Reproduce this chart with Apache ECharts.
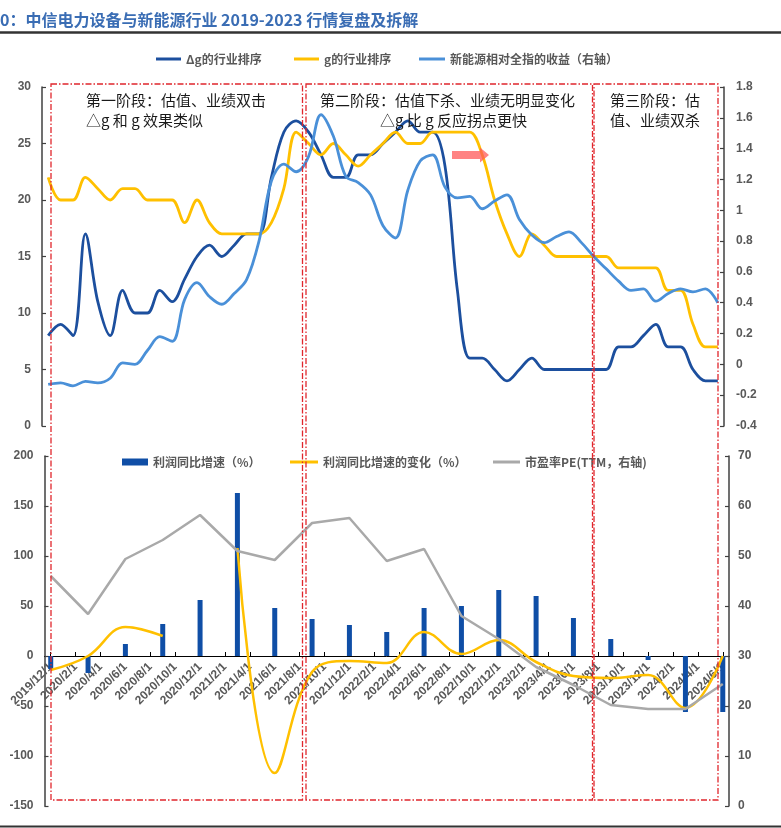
<!DOCTYPE html>
<html>
<head>
<meta charset="utf-8">
<script src="https://cdn.jsdelivr.net/npm/echarts@6/dist/echarts.min.js"></script>
<style>
html,body{margin:0;padding:0;background:#fff;}
#c{width:781px;height:828px;}
</style>
</head>
<body>
<div id="c"></div>
<script>
// ---------- data ----------
var months = [
 '2019/12/1',
 '2020/1/1','2020/2/1','2020/3/1','2020/4/1','2020/5/1','2020/6/1','2020/7/1','2020/8/1','2020/9/1','2020/10/1','2020/11/1','2020/12/1',
 '2021/1/1','2021/2/1','2021/3/1','2021/4/1','2021/5/1','2021/6/1','2021/7/1','2021/8/1','2021/9/1','2021/10/1','2021/11/1','2021/12/1',
 '2022/1/1','2022/2/1','2022/3/1','2022/4/1','2022/5/1','2022/6/1','2022/7/1','2022/8/1','2022/9/1','2022/10/1','2022/11/1','2022/12/1',
 '2023/1/1','2023/2/1','2023/3/1','2023/4/1','2023/5/1','2023/6/1','2023/7/1','2023/8/1','2023/9/1','2023/10/1','2023/11/1','2023/12/1',
 '2024/1/1','2024/2/1','2024/3/1','2024/4/1','2024/5/1','2024/6/1'
];
// Δg 的行业排序 (left axis)
var deltaGRank = [8,9,8,17,11,8,12,10,10,12,11,13,15,16,15,16,17,17,22,26,27,26,24,22,22,24,24,25,26,27,26,26,23,12,6,6,5,4,5,6,5,5,5,5,5,5,7,7,8,9,7,7,5,4,4];
// g 的行业排序 (left axis)
var gRank = [22,20,20,22,21,20,21,21,20,20,20,18,20,18,17,17,17,17,18,21,26,25,24,25,24,23,24,25,26,25,25,26,26,26,26,24,20,17,15,17,16,15,15,15,15,15,14,14,14,14,12,12,9,7,7];
// 新能源相对全指的收益 (right axis)
var relReturn = [-0.13,-0.12,-0.14,-0.11,-0.12,-0.09,0.01,0.00,0.09,0.18,0.15,0.42,0.53,0.44,0.39,0.46,0.55,0.80,1.19,1.30,1.25,1.35,1.62,1.48,1.22,1.18,1.10,0.90,0.82,1.13,1.32,1.36,1.15,1.08,1.09,1.01,1.06,1.10,0.94,0.84,0.79,0.83,0.86,0.79,0.70,0.62,0.54,0.48,0.49,0.41,0.46,0.49,0.47,0.49,0.40];

// quarterly data (bottom panel)
var quarters = ['2019/12/1','2020/3/1','2020/6/1','2020/9/1','2020/12/1','2021/3/1','2021/6/1','2021/9/1','2021/12/1','2022/3/1','2022/6/1','2022/9/1','2022/12/1','2023/3/1','2023/6/1','2023/9/1','2023/12/1','2024/3/1','2024/6/1'];
var profitYoY = [-13,-17,12,32,56,163,48,37,31,24,48,50,66,60,38,17,-4,-56,-56];
var profitYoYChange = [-14,0,29,20,null,108,-117,-16,-5,-7,24,2,16,-6,-20,-22,-19,-52,0];
var peTTM = [46,38.4,49.4,53.2,58.2,51,49.2,56.6,57.6,49,51.4,38,33.4,27.8,24.2,20.2,19.4,19.4,24.4];

var leftTopTicks = {min:0, max:30, interval:5};
var rightTopTicks = {min:-0.4, max:1.8, interval:0.2};
var leftBotTicks = {min:-150, max:200, interval:50};
var rightBotTicks = {min:0, max:70, interval:10};

// ---------- build ----------
function pairs(xs, ys){ return xs.map(function(x,i){ return [x, ys[i]==null ? '-' : ys[i]]; }); }

var C_DG = '#1c4f9e', C_G = '#ffc000', C_REL = '#4a90d8', C_BAR = '#0f4ea6', C_PE = '#a9a9a9';
var axisLabelStyle = {color:'#595959', fontSize:12, fontWeight:'bold', fontFamily:'"Liberation Sans", Arial, sans-serif'};
var axisLineStyle = {show:true, lineStyle:{color:'#404040', width:1.5}};
var legendText = {color:'#595959', fontSize:12, fontWeight:'bold', fontFamily:'"Noto Sans CJK SC", sans-serif'};

var BOT_H = 350;
// put the category axis on the value-axis zero line of the bottom panel
var botZeroOffset = -(0 - leftBotTicks.min) / (leftBotTicks.max - leftBotTicks.min) * BOT_H;

function yAx(grid, ticks, pos, margin, fmt){
  var a = {type:'value', gridIndex:grid, position:pos, min:ticks.min, max:ticks.max, interval:ticks.interval,
    axisLine:axisLineStyle, axisTick:{show:true, inside:true, length:4, lineStyle:{color:'#404040', width:1.2}},
    axisLabel:Object.assign({margin:margin}, axisLabelStyle), splitLine:{show:false}};
  if (fmt) a.axisLabel.formatter = fmt;
  return a;
}
function oneLegend(name, left, top, w, h){
  return {data:[name], left:left, top:top, itemWidth:w, itemHeight:h, icon:'rect', itemGap:0,
    textStyle:legendText, padding:0, selectedMode:false};
}
var annoFont = '"Noto Sans CJK SC", sans-serif';
function anno(text, x, y){
  return {type:'text', x:x, y:y, z:100, style:{text:text, fill:'#1a1a1a', fontSize:15, fontFamily:annoFont, verticalAlign:'middle'}};
}
var dashStyle = {fill:'none', stroke:'#e0262c', lineWidth:1.3, lineDash:[6,2,1.5,2]};

var chart = echarts.init(document.getElementById('c'), null, {renderer:'canvas'});
chart.setOption({
  animation:false,
  backgroundColor:'#fff',
  grid:[
    {left:42, right:57, top:87, height:339, containLabel:false, outerBoundsMode:'none'},
    {left:44.5, right:52, top:456, height:BOT_H, containLabel:false, outerBoundsMode:'none'}
  ],
  xAxis:[
    {type:'category', gridIndex:0, data:months, boundaryGap:true, show:false},
    {type:'category', gridIndex:1, data:months, boundaryGap:true, position:'bottom', offset:botZeroOffset,
      axisLine:{show:true, onZero:false, lineStyle:{color:'#000', width:1}},
      axisTick:{show:true, inside:true, length:4, interval:1, alignWithLabel:true, lineStyle:{color:'#000'}},
      axisLabel:Object.assign({interval:1, rotate:45, margin:9}, axisLabelStyle),
      splitLine:{show:false}}
  ],
  yAxis:[
    yAx(0, leftTopTicks, 'left', 11),
    yAx(0, rightTopTicks, 'right', 12, function(v){ return String(+v.toFixed(1)); }),
    yAx(1, leftBotTicks, 'left', 11),
    yAx(1, rightBotTicks, 'right', 9)
  ],
  legend:[
    oneLegend('Δg的行业排序', 156, 53, 25, 3),
    oneLegend('g的行业排序', 294, 53, 25, 3),
    oneLegend('新能源相对全指的收益（右轴）', 419, 53, 26, 3),
    oneLegend('利润同比增速（%）', 122, 456, 26, 7),
    oneLegend('利润同比增速的变化（%）', 290, 456, 28, 3),
    oneLegend('市盈率PE(TTM，右轴)', 493, 456, 27, 3)
  ],
  series:[
    {name:'Δg的行业排序', type:'line', xAxisIndex:0, yAxisIndex:0, data:deltaGRank, smooth:0.35,
      showSymbol:false, lineStyle:{color:C_DG, width:2.8}, itemStyle:{color:C_DG}},
    {name:'g的行业排序', type:'line', xAxisIndex:0, yAxisIndex:0, data:gRank, smooth:0.35,
      showSymbol:false, lineStyle:{color:C_G, width:2.8}, itemStyle:{color:C_G}},
    {name:'新能源相对全指的收益（右轴）', type:'line', xAxisIndex:0, yAxisIndex:1, data:relReturn, smooth:0.35,
      showSymbol:false, lineStyle:{color:C_REL, width:2.8}, itemStyle:{color:C_REL}},
    {name:'利润同比增速（%）', type:'bar', xAxisIndex:1, yAxisIndex:2, data:pairs(quarters, profitYoY),
      barWidth:5, itemStyle:{color:C_BAR}},
    {name:'利润同比增速的变化（%）', type:'line', xAxisIndex:1, yAxisIndex:2, data:pairs(quarters, profitYoYChange),
      smooth:0.4, connectNulls:false, showSymbol:false, lineStyle:{color:C_G, width:2.5}, itemStyle:{color:C_G}},
    {name:'市盈率PE(TTM，右轴)', type:'line', xAxisIndex:1, yAxisIndex:3, data:pairs(quarters, peTTM),
      showSymbol:false, lineStyle:{color:C_PE, width:2.5}, itemStyle:{color:C_PE}}
  ],
  graphic:[
    {type:'text', x:0, y:20, style:{text:'0：中信电力设备与新能源行业 2019-2023 行情复盘及拆解', fill:'#3a6db4',
      fontSize:16, fontWeight:'bold', fontFamily:annoFont, verticalAlign:'middle'}},
    {type:'line', shape:{x1:0, y1:32.5, x2:781, y2:32.5}, style:{stroke:'#333', lineWidth:2.5}},
    {type:'line', shape:{x1:0, y1:826.5, x2:781, y2:826.5}, style:{stroke:'#333', lineWidth:2}},
    {type:'rect', shape:{x:51, y:84, width:251.5, height:716}, style:dashStyle, z:50},
    {type:'rect', shape:{x:306, y:84, width:286.5, height:716}, style:dashStyle, z:50},
    {type:'rect', shape:{x:594, y:84, width:124, height:716}, style:dashStyle, z:50},
    anno('第一阶段：估值、业绩双击', 86, 100),
    anno('△g 和 g 效果类似', 86, 120),
    anno('第二阶段：估值下杀、业绩无明显变化', 320, 100),
    anno('△g 比 g 反应拐点更快', 380, 120),
    anno('第三阶段：估', 610, 100),
    anno('值、业绩双杀', 610, 120),
    {type:'polygon', z:60, shape:{points:[[452,151],[480,151],[480,147.5],[489,155],[480,162.5],[480,159],[452,159]]},
      style:{fill:'rgba(255,90,90,0.75)'}}
  ]
});
</script>
</body>
</html>
